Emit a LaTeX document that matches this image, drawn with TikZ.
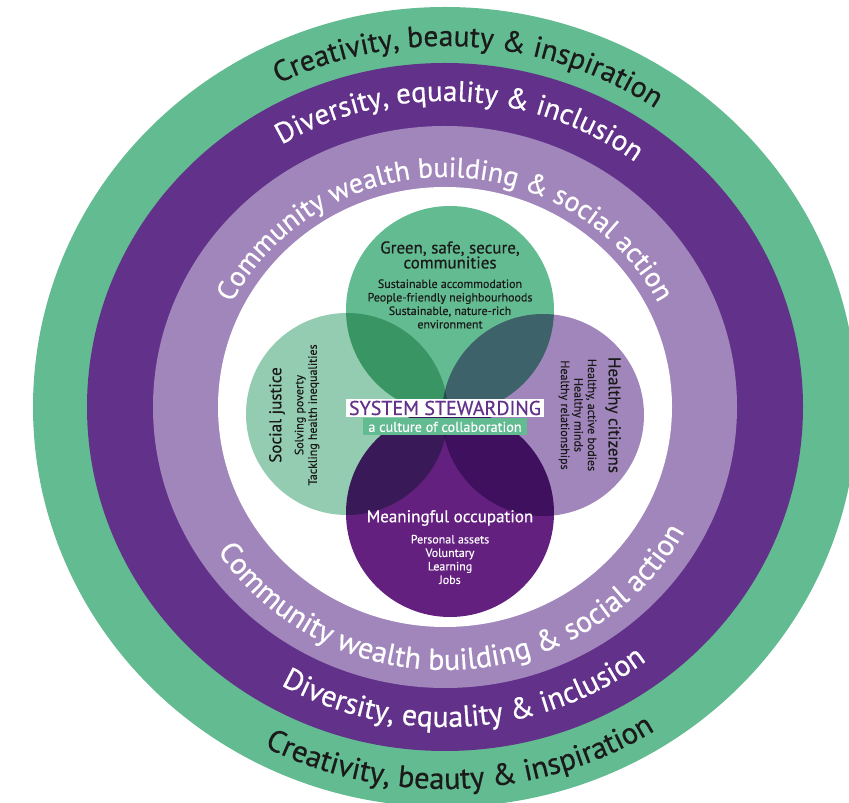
\documentclass[tikz,border=0pt]{standalone}
\usepackage{fontspec}
\setmainfont{PT Sans}
\newfontfamily\heavyface[FakeBold=0.6]{PT Sans}
\newfontfamily\mediumface[FakeBold=0.3]{PT Sans}
\usepackage{tikz}
\usetikzlibrary{decorations.text, positioning}

\definecolor{ringgreen}{HTML}{63BB91}
\definecolor{ringpurple}{HTML}{623189}
\definecolor{ringlilac}{HTML}{A186BC}
\definecolor{lightgreen}{HTML}{93CCB0}
\definecolor{deeppurple}{HTML}{63207F}
\definecolor{inktext}{HTML}{1A1A1A}
\newcommand{\ringfont}[1]{\heavyface\fontsize{#1}{#1}\selectfont}

\begin{document}
\begin{tikzpicture}[x=1pt, y=1pt,
		title/.style={font=\heavyface\fontsize{17}{15}\selectfont, align=center, inner sep=0pt},
		detail/.style={font=\mediumface\fontsize{12}{13.5}\selectfont, align=center, inner sep=0pt},
		ringtext/.style={decorate, decoration={text along path, text align=center, text={#1}}}]
	\useasboundingbox (0,0) rectangle (849,803);
	\clip (0,0) rectangle (849,803);
	\coordinate (c) at (445,396);
	% rings
	\fill[ringgreen] (c) ellipse [x radius=412, y radius=400];
	\fill[ringpurple] (c) ellipse [x radius=358, y radius=344];
	\fill[ringlilac] (c) ellipse [x radius=292, y radius=281];
	\fill[white] (c) ellipse [x radius=227, y radius=220];
	% four circles
	\begin{scope}[blend group=multiply]
		\fill[lightgreen] (347,389) circle [radius=101];
		\fill[ringlilac] (543,388) circle [radius=101];
		\fill[ringgreen] (450,493) circle [radius=104];
		\fill[deeppurple] (450,290) circle [radius=104];
	\end{scope}
	% ring texts, top
	\path[ringtext={|\ringfont{29.5}\color{inktext}|Creativity, beauty {\&} inspiration}]
		(c) ++(176:374 and 361) arc [start angle=176, end angle=-4, x radius=374, y radius=361];
	\path[ringtext={|\ringfont{29}\color{white}|Diversity, equality {\&} inclusion}]
		(c) ++(177:317 and 306) arc [start angle=177, end angle=-3, x radius=317, y radius=306];
	\path[ringtext={|\ringfont{28}\color{white}|Community wealth building {\&} social action}]
		(c) ++(180:239 and 230) arc [start angle=180, end angle=0, x radius=239, y radius=230];
	% ring texts, bottom
	\path[ringtext={|\ringfont{30.5}\color{inktext}|Creativity, beauty {\&} inspiration}]
		(c) ++(182.5:395 and 382) arc [start angle=182.5, end angle=362.5, x radius=395, y radius=382];
	\path[ringtext={|\ringfont{30}\color{white}|Diversity, equality {\&} inclusion}]
		(c) ++(184:331 and 320) arc [start angle=184, end angle=364, x radius=331, y radius=320];
	\path[ringtext={|\ringfont{30}\color{white}|Community wealth building {\&} social action}]
		(c) ++(182.5:272 and 263) arc [start angle=182.5, end angle=362.5, x radius=272, y radius=263];
	% circle texts
	\node at (450,548) (green) [title, text=inktext] {Green, safe, secure,\\communities};
	\node at (450,499) (greenlist) [detail, text=inktext] {Sustainable accommodation\\People-friendly neighbourhoods\\Sustainable, nature-rich\\environment};
	\node at (277,388) (justice) [title, text=inktext, rotate=90] {Social justice};
	\node at (307,388) (justicelist) [detail, text=inktext, rotate=90] {Solving poverty\\Tackling health inequalities};
	\node at (613,388) (health) [title, text=inktext, rotate=-90] {Healthy citizens};
	\node at (577.5,388) (healthlist) [detail, text=inktext, rotate=-90] {Healthy, active bodies\\Healthy minds\\Healthy relationships};
	\node at (450,285) (work) [title, text=white] {Meaningful occupation};
	\node at (450,243.5) (worklist) [detail, text=white] {Personal assets\\Voluntary\\Learning\\Jobs};
	% centre
	\node at (445,395) (steward) [fill=white, text=ringpurple, inner sep=0pt, minimum width=198, minimum height=18, font=\heavyface\fontsize{20}{18}\selectfont] {SYSTEM STEWARDING};
	\node (culture) [below=1pt of steward, fill=ringgreen, text=white, inner sep=0pt, minimum width=164, minimum height=17, font=\mediumface\fontsize{14.2}{13}\selectfont] {a culture of collaboration};
\end{tikzpicture}
\end{document}
